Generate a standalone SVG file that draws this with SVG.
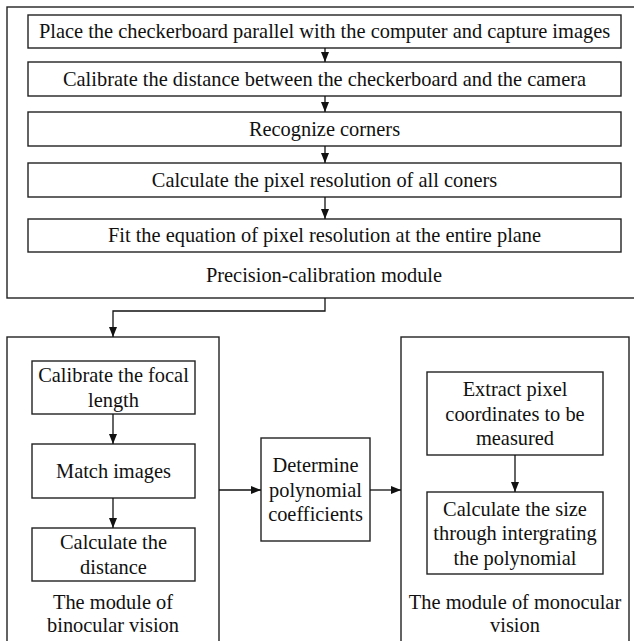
<svg xmlns="http://www.w3.org/2000/svg" width="634" height="641" viewBox="0 0 634 641">
<style>
.box{fill:#fff;stroke:#222;stroke-width:1.4}
.frame{fill:none;stroke:#222;stroke-width:1.4}
.t{font-size:20.4px;fill:#111;text-anchor:middle}
.c{fill:none;stroke:#111;stroke-width:1.3}
</style>
<defs>
<marker id="ah" markerUnits="userSpaceOnUse" markerWidth="10" markerHeight="10" viewBox="0 0 10 10" refX="10" refY="5" orient="auto">
<path d="M0,1 L10,5 L0,9 Z" fill="#111"/>
</marker>
</defs>
<rect width="634" height="641" fill="#fff"/>
<g font-family="'Liberation Serif', Tinos, 'Times New Roman', 'DejaVu Serif', serif">
<g id="precision-module">
<rect class="frame" x="7" y="7" width="640" height="291"/>
<text class="t" x="324" y="282">Precision-calibration module</text>
</g>
<g id="step1"><rect class="box" x="28" y="15" width="593" height="33"/><text class="t" x="324.5" y="38">Place the checkerboard parallel with the computer and capture images</text></g>
<g id="step2"><rect class="box" x="28" y="62" width="593" height="34"/><text class="t" x="324.5" y="86">Calibrate the distance between the checkerboard and the camera</text></g>
<g id="step3"><rect class="box" x="28" y="112" width="593" height="34"/><text class="t" x="324.5" y="136">Recognize corners</text></g>
<g id="step4"><rect class="box" x="28" y="163" width="593" height="34"/><text class="t" x="324.5" y="187">Calculate the pixel resolution of all coners</text></g>
<g id="step5"><rect class="box" x="28" y="219" width="593" height="33"/><text class="t" x="324.5" y="242">Fit the equation of pixel resolution at the entire plane</text></g>
<g id="binocular-module">
<rect class="frame" x="7" y="337" width="212" height="320"/>
<text class="t" x="113" y="609">The module of</text>
<text class="t" x="113" y="632">binocular vision</text>
</g>
<g id="focal"><rect class="box" x="32" y="361" width="163" height="53"/><text class="t" x="113.5" y="382">Calibrate the focal</text><text class="t" x="113.5" y="407">length</text></g>
<g id="match"><rect class="box" x="32" y="444" width="163" height="54"/><text class="t" x="113.5" y="478">Match images</text></g>
<g id="distance"><rect class="box" x="32" y="528" width="163" height="53"/><text class="t" x="113.5" y="549">Calculate the</text><text class="t" x="113.5" y="574">distance</text></g>
<g id="determine"><rect class="box" x="261" y="438" width="109" height="103"/><text class="t" x="315.5" y="472">Determine</text><text class="t" x="315.5" y="496.5">polynomial</text><text class="t" x="315.5" y="521">coefficients</text></g>
<g id="monocular-module">
<rect class="frame" x="401" y="337" width="228" height="320"/>
<text class="t" x="515" y="609">The module of monocular</text>
<text class="t" x="515" y="632">vision</text>
</g>
<g id="extract"><rect class="box" x="427" y="372" width="176" height="83"/><text class="t" x="515" y="396">Extract pixel</text><text class="t" x="515" y="420.5">coordinates to be</text><text class="t" x="515" y="445">measured</text></g>
<g id="size"><rect class="box" x="427" y="492" width="176" height="82"/><text class="t" x="515" y="516">Calculate the size</text><text class="t" x="515" y="540">through intergrating</text><text class="t" x="515" y="565">the polynomial</text></g>
</g>
<g id="connectors">
<path class="c" d="M325,48 V62" marker-end="url(#ah)"/>
<path class="c" d="M325,96 V112" marker-end="url(#ah)"/>
<path class="c" d="M325,146 V163" marker-end="url(#ah)"/>
<path class="c" d="M325,197 V219" marker-end="url(#ah)"/>
<path class="c" d="M325,298 V311 H113 V337" marker-end="url(#ah)"/>
<path class="c" d="M113,414 V444" marker-end="url(#ah)"/>
<path class="c" d="M113,498 V528" marker-end="url(#ah)"/>
<path class="c" d="M219,490 H261" marker-end="url(#ah)"/>
<path class="c" d="M370,490 H401" marker-end="url(#ah)"/>
<path class="c" d="M515,455 V492" marker-end="url(#ah)"/>
</g>
</svg>
